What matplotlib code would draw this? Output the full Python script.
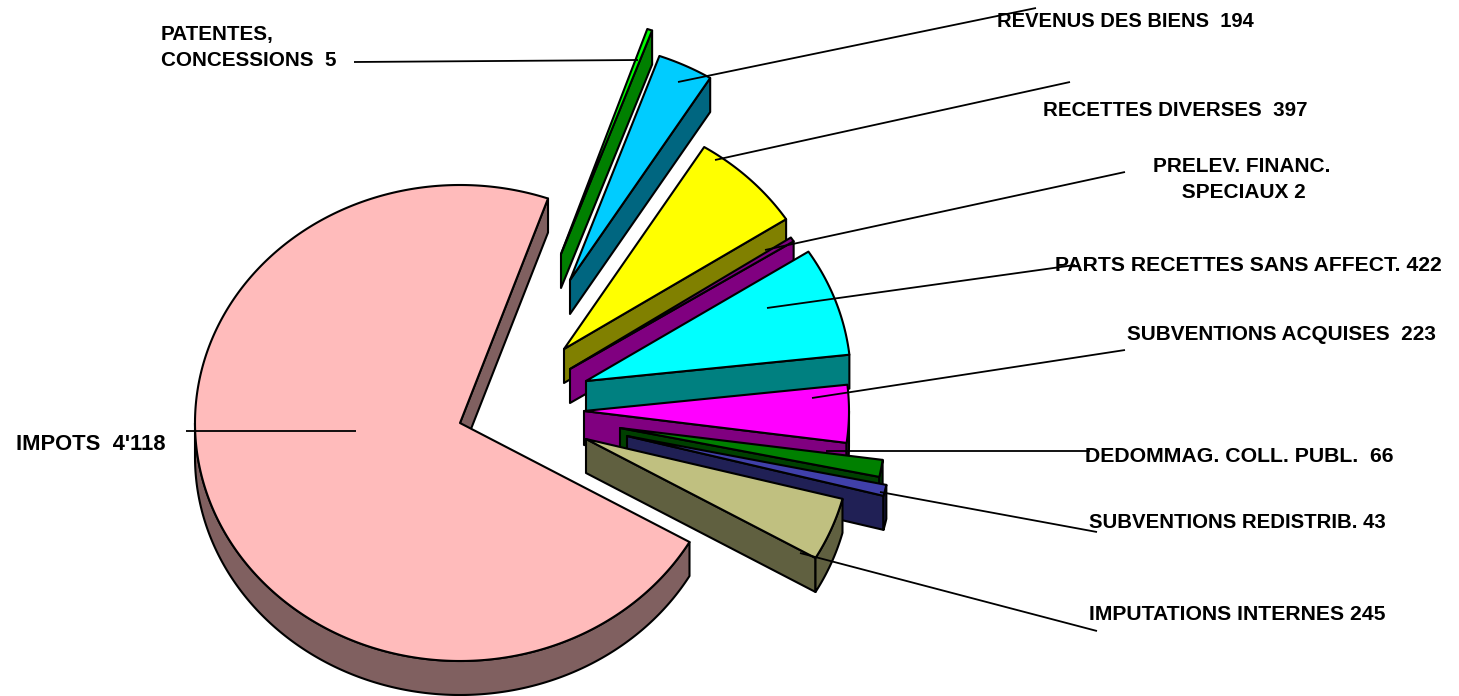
import numpy as np
import matplotlib
matplotlib.use("Agg")
import matplotlib.pyplot as plt
from matplotlib.patches import Polygon

# Data, in pie order (counter-clockwise)
categories = ["IMPUTATIONS INTERNES", "SUBVENTIONS REDISTRIB.", "DEDOMMAG. COLL. PUBL.",
              "SUBVENTIONS ACQUISES", "PARTS RECETTES SANS AFFECT.", "PRELEV. FINANC. SPECIAUX",
              "RECETTES DIVERSES", "REVENUS DES BIENS", "PATENTES, CONCESSIONS", "IMPOTS"]
values = [245, 43, 66, 223, 422, 2, 397, 194, 5, 4118]
label_texts = ["IMPUTATIONS INTERNES 245", "SUBVENTIONS REDISTRIB. 43", "DEDOMMAG. COLL. PUBL.  66",
               "SUBVENTIONS ACQUISES  223", "PARTS RECETTES SANS AFFECT. 422",
               "PRELEV. FINANC.\n     SPECIAUX 2", "RECETTES DIVERSES  397",
               "REVENUS DES BIENS  194", "PATENTES,\nCONCESSIONS  5", "IMPOTS  4'118"]

# Styles and layout (pixel space of the figure)
top_colors = ["#C0C080", "#4040AA", "#008000", "#FF00FF", "#00FFFF", "#800080",
              "#FFFF00", "#00CCFF", "#00FF00", "#FFBBBB"]
side_colors = ["#606040", "#202055", "#004000", "#800080", "#008080", "#800080",
               "#808000", "#006680", "#008000", "#806060"]
apexes = [(586, 439), (627, 436), (620, 428), (584, 411), (586, 381), (570, 369),
          (564, 349), (570, 280), (561, 254), (460, 423)]
label_pos = [(1089, 620), (1089, 528), (1085, 462), (1127, 340), (1055, 271), (1153, 198),
             (1043, 116), (997, 27), (161, 66), (16, 450)]
label_sizes = [15.2, 14.7, 15.35, 14.96, 15.2, 15.0, 14.75, 14.5, 14.86, 15.8]
leaders = [((800, 553), (1097, 631)), ((880, 492), (1097, 532)), ((826, 451), (1090, 451)),
           ((812, 398), (1125, 350)), ((767, 308), (1075, 265)), ((765, 250), (1125, 172)),
           ((715, 160), (1070, 82)), ((678, 82), (1036, 8)), ((354, 62), (638, 60)),
           ((186, 431), (356, 431))]
RX, RY, DEPTH = 265, 238, 34
START = -30.0
MIN_SWEEP = 1.1
LW = 1.5

fig = plt.figure(figsize=(14.59, 6.96), dpi=100, facecolor="white")
ax = fig.add_axes([0, 0, 1, 1])
ax.set_xlim(0, 1459)
ax.set_ylim(696, 0)
ax.axis("off")


def rim(apex, a0, a1, n=None):
    n = n or max(2, int(abs(a1 - a0) * 2))
    t = np.radians(np.linspace(a0, a1, n))
    return np.column_stack([apex[0] + RX * np.cos(t), apex[1] - RY * np.sin(t)])


sweeps = np.array(values, dtype=float) / sum(values) * 360
edges = START + np.concatenate([[0], np.cumsum(sweeps)])
kw = dict(edgecolor="black", linewidth=LW, joinstyle="round")

# back to front: thin top slices first, then down the right side, the big slice last
order = [8, 7, 6, 5, 4, 3, 2, 1, 0, 9]
for i in order:
    a0, a1 = edges[i], edges[i + 1]
    if a1 - a0 < MIN_SWEEP:
        mid = (a0 + a1) / 2
        a0, a1 = mid - MIN_SWEEP / 2, mid + MIN_SWEEP / 2
    apex = np.array(apexes[i], dtype=float)
    p0 = rim(apex, a0, a0, n=1)[0]
    # radial side wall
    ax.add_patch(Polygon([apex, p0, p0 + (0, DEPTH), apex + (0, DEPTH)],
                         facecolor=side_colors[i], **kw))
    # curved rim wall where the arc faces the viewer
    b0, b1 = a0 % 360, (a0 % 360) + (a1 - a0)
    lo, hi = max(b0, 180), min(b1, 360)
    if hi > lo:
        up = rim(apex, lo, hi)
        ax.add_patch(Polygon(np.vstack([up, (up + (0, DEPTH))[::-1]]),
                             facecolor=side_colors[i], **kw))
    # top face
    ax.add_patch(Polygon(np.vstack([apex, rim(apex, a0, a1)]),
                         facecolor=top_colors[i], **kw))

for (p, q) in leaders:
    ax.plot([p[0], q[0]], [p[1], q[1]], color="black", lw=1.3, solid_capstyle="butt")

for txt, (x, y), fs in zip(label_texts, label_pos, label_sizes):
    ax.text(x, y, txt, fontsize=fs, fontweight="bold", family="Liberation Sans",
            ha="left", va="baseline", color="black", linespacing=1.49,
            multialignment="left")

fig.savefig("out.png", dpi=100)
